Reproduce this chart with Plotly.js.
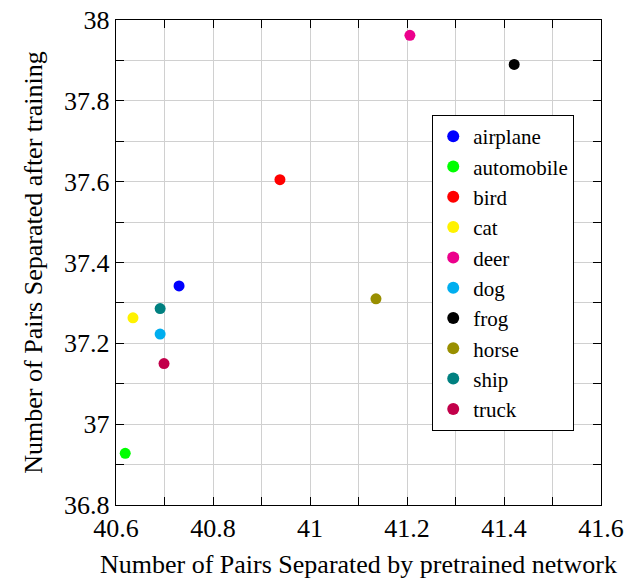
<!DOCTYPE html>
<html>
<head>
<meta charset="utf-8">
<script src="https://cdn.plot.ly/plotly-3.0.1.min.js"></script>
<style>html,body{margin:0;padding:0;background:#fff;}#chart{width:629px;height:580px;}</style>
</head>
<body>
<div id="chart"></div>
<script>
const classes = ["airplane","automobile","bird","cat","deer","dog","frog","horse","ship","truck"];
const pretrained = [40.730, 40.619, 40.938, 40.635, 41.206, 40.691, 41.421, 41.136, 40.691, 40.699];
const afterTraining = [37.342, 36.928, 37.605, 37.263, 37.962, 37.223, 37.890, 37.310, 37.286, 37.150];
const colors = ["#0000ff","#00ff00","#ff0000","#fff200","#ec008c","#00aeef","#000000","#998f00","#008080","#c2004a"];
const xTicks = [40.6, 40.8, 41, 41.2, 41.4, 41.6];
const yTicks = [36.8, 37, 37.2, 37.4, 37.6, 37.8, 38];

const font = "Liberation Serif";
const traces = classes.map((c, i) => ({
  type: "scatter", mode: "markers", name: c,
  x: [pretrained[i]], y: [afterTraining[i]],
  marker: {color: colors[i], size: 11},
  cliponaxis: false
}));

function axisCommon() {
  return {
    showline: true, mirror: "ticks", linecolor: "#000", linewidth: 1.2,
    ticks: "inside", ticklen: 8, tickcolor: "#000", tickwidth: 1,
    showgrid: true, gridcolor: "#d0d0d0", gridwidth: 1,
    zeroline: false, tickmode: "array",
    tickfont: {family: font, size: 26, color: "#000"},
    minor: {dtick: 0.1, ticks: "inside", ticklen: 8, tickcolor: "#000", showgrid: true, gridcolor: "#d0d0d0", gridwidth: 1}
  };
}

const layout = {
  width: 629, height: 580,
  font: {family: font, size: 21, color: "#000"},
  margin: {l: 116, r: 28, t: 20, b: 75},
  paper_bgcolor: "#fff", plot_bgcolor: "#fff",
  showlegend: true,
  xaxis: Object.assign(axisCommon(), {
    range: [40.6, 41.6], tickvals: xTicks, ticktext: xTicks.map(String),
    title: {text: "Number of Pairs Separated by pretrained network", font: {family: font, size: 26, color: "#000"}, standoff: 12}
  }),
  yaxis: Object.assign(axisCommon(), {
    range: [36.8, 38], tickvals: yTicks, ticktext: yTicks.map(String),
    title: {text: "Number of Pairs Separated after training", font: {family: font, size: 26, color: "#000"}, standoff: 14}
  }),
  legend: {
    x: 0.652, y: 0.804, xanchor: "left", yanchor: "top",
    bgcolor: "#fff", bordercolor: "#000", borderwidth: 1,
    font: {family: font, size: 21, color: "#000"},
    tracegroupgap: 0, itemsizing: "constant", itemwidth: 30,
    entrywidth: 110
  }
};

Plotly.newPlot("chart", traces, layout, {displayModeBar: false, staticPlot: true});
</script>
</body>
</html>
